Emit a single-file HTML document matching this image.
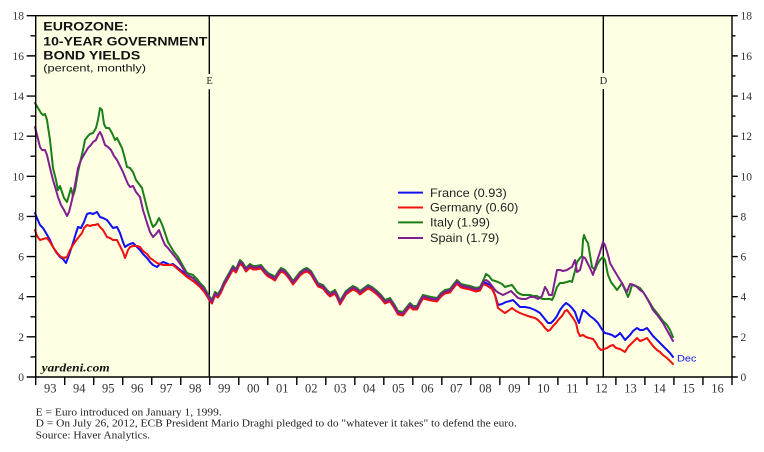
<!DOCTYPE html>
<html><head><meta charset="utf-8"><style>
html,body{margin:0;padding:0;background:#fff;}
svg{display:block;}
</style></head><body>
<svg width="764" height="452" viewBox="0 0 764 452" xmlns="http://www.w3.org/2000/svg">
<rect x="0" y="0" width="764" height="452" fill="#ffffff"/>
<rect x="35.7" y="15.7" width="696.3" height="361.3" fill="#FFFFE4"/>

<!-- title -->
<g font-family="Liberation Sans, Arial, sans-serif" fill="#111">
<text x="43.3" y="30.7" font-size="11.5" font-weight="bold" textLength="85" lengthAdjust="spacingAndGlyphs">EUROZONE:</text>
<text x="43.3" y="45.5" font-size="11.5" font-weight="bold" textLength="164" lengthAdjust="spacingAndGlyphs">10-YEAR GOVERNMENT</text>
<text x="43.3" y="59.3" font-size="11.5" font-weight="bold" textLength="97" lengthAdjust="spacingAndGlyphs">BOND YIELDS</text>
<text x="43.3" y="71.7" font-size="10" textLength="102.7" lengthAdjust="spacingAndGlyphs">(percent, monthly)</text>
</g>

<!-- event lines -->
<g stroke="#000" stroke-width="1.4">
<line x1="209.3" y1="15.7" x2="209.3" y2="74"/>
<line x1="209.3" y1="89.3" x2="209.3" y2="377"/>
<line x1="603.3" y1="15.7" x2="603.3" y2="73"/>
<line x1="603.3" y1="89" x2="603.3" y2="377"/>
</g>
<g font-family="Liberation Serif, Times New Roman, serif" font-size="10.5" fill="#222" text-anchor="middle">
<text x="209.6" y="84.2">E</text>
<text x="603.4" y="84.2">D</text>
</g>

<!-- series -->
<g fill="none" stroke-width="2" stroke-linejoin="round" stroke-linecap="round">
<!-- Italy -->
<g stroke="#1a7f1a">
<polyline points="35,103 38,108 41,113 43,115 45,114 47,120 50,140 53,168 56,180 58,190 60,186 62,192 64,198 67,202 69,195 71,188 73,196 75,190 78,172 80,163 83,150 85,140 88,136 90,134 93,133 96,128 98,120 100,108 102,110 104,124 106,128 109,128 112,133 115,140 117,138 119,142 122,148 124,155 127,167 130,168 133,172 136,180 139,184 142,188 145,200 148,212 151,222 153,227 156,224 159,218 161,222 163,227 166,236 168,242 171,247 174,252 178,257 183,266 187,273 193,275 197,279 200,283 204,287 209,296"/>
<polyline transform="translate(0,-2)" points="209,298 212,302 215,294 218,296 221,291 224,284 228,277 233,268 236,271 240,262 243,265 246,270 250,266 253,268 256,268 261,267 265,272 268,275 272,277 275,279 278,274 281,270 285,272 289,277 293,283 297,278 300,274 304,271 307,270 311,273 315,280 318,285 323,287 327,292 330,295 335,292 338,298 340,303 343,298 346,293 350,290 353,288 357,290 360,293 364,290 368,287 372,289 377,293 381,297 385,302 390,300 394,306 398,313 403,314 406,310 410,305 413,308 417,308 420,302 423,297 427,298 431,299 437,300 441,295 445,292 450,291 453,287 457,282 461,286 465,287 470,288 476,290 480,289 483,283"/>
<polyline points="483,281 486,274 489,276 492,280 495,281 498,282 502,284 505,287 508,286 512,285 515,289 517,292 520,294 523,295 527,295 530,295 533,296 537,296 540,298 543,299 547,299 550,299 552,300 554,296 557,287 560,283 563,283 567,282 570,281 572,282 575,271 577,262 580,258 582,256 583,240 584,235 586,240 588,243 590,255 592,267 595,270 597,265 600,260 603,257 605,260 608,275 611,282 614,286 617,290 620,286 622,283 625,290 628,297 630,292 632,285 636,286 640,288 643,292 647,298 650,303 653,308 657,313 660,317 663,321 667,325 670,330 673,337"/>
</g>
<!-- France -->
<g stroke="#1010f0">
<polyline points="35,213 37,218 40,225 43,228 46,233 50,240 53,247 56,252 60,257 63,259 66,263 69,255 73,243 76,233 78,227 81,228 84,222 87,214 90,213 93,214 95,213 97,212 100,217 103,218 107,220 110,224 113,228 117,227 120,233 123,242 125,247 128,245 130,244 133,243 137,247 140,250 143,254 147,258 150,262 153,265 157,267 160,264 163,262 166,263 170,265 173,264 178,268 183,272 187,275 193,278 200,286 205,292 209,298.5"/>
<polyline transform="translate(0,0.5)" points="209,298 212,302 215,294 218,296 221,291 224,284 228,277 233,268 236,271 240,262 243,265 246,270 250,266 253,268 256,268 261,267 265,272 268,275 272,277 275,279 278,274 281,270 285,272 289,277 293,283 297,278 300,274 304,271 307,270 311,273 315,280 318,285 323,287 327,292 330,295 335,292 338,298 340,303 343,298 346,293 350,290 353,288 357,290 360,293 364,290 368,287 372,289 377,293 381,297 385,302 390,300 394,306 398,313 403,314 406,310 410,305 413,308 417,308 420,302 423,297 427,298 431,299 437,300 441,295 445,292 450,291 453,287 457,282 461,286 465,287 470,288 476,290 480,289 483,283"/>
<polyline points="483,283.5 486,283 490,285 493,290 496,298 498,305 502,304 506,302 510,301 513,300 516,303 520,307 525,307 530,308 535,310 540,313 544,318 548,323 551,323 554,320 557,316 560,310 563,306 566,303 569,305 572,308 575,312 577,318 579,323 581,316 583,310 586,312 590,316 594,319 598,323 601,328 603,331 605,333 609,334 612,335 615,337 618,335 620,333 623,337 625,340 628,337 630,335 633,331 637,328 640,330 643,330 647,328 650,332 653,336 657,340 660,343 663,346 667,350 670,353 673,357"/>
</g>
<!-- Germany -->
<g stroke="#f01010">
<polyline points="35,230 37,236 40,240 43,239 47,238 50,242 53,247 55,250 58,254 61,257 64,258 67,257 70,250 73,245 75,242 78,238 82,233 84,228 87,225 90,226 93,225 95,225 98,224 100,227 103,230 107,237 110,238 113,240 117,240 120,246 123,252 125,258 128,250 130,247 133,246 137,246 140,247 143,251 147,254 150,258 153,260 157,263 160,264 163,265 168,265 173,265 180,271 187,277 193,281 200,287 205,293 209,299.5"/>
<polyline transform="translate(0,1.5)" points="209,298 212,302 215,294 218,296 221,291 224,284 228,277 233,268 236,271 240,262 243,265 246,270 250,266 253,268 256,268 261,267 265,272 268,275 272,277 275,279 278,274 281,270 285,272 289,277 293,283 297,278 300,274 304,271 307,270 311,273 315,280 318,285 323,287 327,292 330,295 335,292 338,298 340,303 343,298 346,293 350,290 353,288 357,290 360,293 364,290 368,287 372,289 377,293 381,297 385,302 390,300 394,306 398,313 403,314 406,310 410,305 413,308 417,308 420,302 423,297 427,298 431,299 437,300 441,295 445,292 450,291 453,287 457,282 461,286 465,287 470,288 476,290 480,289 483,283"/>
<polyline points="483,284.5 486,285 489,287 492,289 495,295 498,308 502,311 505,313 508,311 512,308 516,311 520,313 525,315 531,317 535,318 538,320 542,324 545,328 548,331 550,330 553,326 556,323 559,319 562,316 565,311 567,310 570,314 573,318 576,323 578,332 580,336 583,335 586,337 589,338 593,339 596,343 598,347 601,350 604,349 607,348 610,346 613,345 616,348 620,349 625,352 628,347 632,343 635,340 637,338 640,341 643,340 647,338 650,342 653,346 657,350 660,352 663,355 667,358 670,361 673,364"/>
</g>
<!-- Spain -->
<g stroke="#80208f">
<polyline points="35,127 37,135 40,147 42,150 45,150 47,155 50,168 53,180 56,190 58,197 61,205 64,210 67,216 69,212 72,200 75,185 78,168 81,160 85,153 88,148 91,145 93,142 96,140 98,135 100,132 102,136 105,145 108,147 111,150 114,156 117,160 120,166 123,172 125,177 128,184 130,187 133,186 136,192 140,197 143,210 147,223 150,232 153,237 156,234 159,230 162,238 165,245 168,248 172,253 176,258 181,265 187,275 193,278 200,285 204,289 209,297.5"/>
<polyline transform="translate(0,-0.5)" points="209,298 212,302 215,294 218,296 221,291 224,284 228,277 233,268 236,271 240,262 243,265 246,270 250,266 253,268 256,268 261,267 265,272 268,275 272,277 275,279 278,274 281,270 285,272 289,277 293,283 297,278 300,274 304,271 307,270 311,273 315,280 318,285 323,287 327,292 330,295 335,292 338,298 340,303 343,298 346,293 350,290 353,288 357,290 360,293 364,290 368,287 372,289 377,293 381,297 385,302 390,300 394,306 398,313 403,314 406,310 410,305 413,308 417,308 420,302 423,297 427,298 431,299 437,300 441,295 445,292 450,291 453,287 457,282 461,286 465,287 470,288 476,290 480,289 483,283"/>
<polyline points="483,282.5 486,280 489,282 492,286 496,291 499,293 503,295 507,293 511,291 514,294 518,298 522,299 526,299 530,297 534,297 538,299 542,296 545,287 547,290 549,295 552,295 554,285 557,270 560,270 563,271 567,270 570,268 572,267 575,260 577,272 580,270 582,262 583,257 585,258 587,262 590,268 593,275 595,268 597,261 600,252 603,242 605,245 608,255 610,263 614,270 617,275 620,280 622,283 625,289 627,292 630,284 634,285 637,287 640,290 643,292 645,295 649,302 653,310 658,316 663,323 668,332 673,341"/>
</g>
</g>

<text x="677" y="361.7" font-family="Liberation Sans, Arial, sans-serif" font-size="9.5" fill="#1010f0" textLength="19.5" lengthAdjust="spacingAndGlyphs">Dec</text>

<!-- legend -->
<g stroke-width="2">
<line x1="398" y1="192.6" x2="423" y2="192.6" stroke="#1010f0"/>
<line x1="398" y1="207.5" x2="423" y2="207.5" stroke="#f01010"/>
<line x1="398" y1="222.4" x2="423" y2="222.4" stroke="#1a7f1a"/>
<line x1="398" y1="238" x2="423" y2="238" stroke="#80208f"/>
</g>
<g font-family="Liberation Sans, Arial, sans-serif" font-size="12" fill="#222">
<text x="430" y="196.8" textLength="76.7" lengthAdjust="spacingAndGlyphs">France (0.93)</text>
<text x="430" y="211.7" textLength="88.3" lengthAdjust="spacingAndGlyphs">Germany (0.60)</text>
<text x="430" y="226.6" textLength="60" lengthAdjust="spacingAndGlyphs">Italy (1.99)</text>
<text x="430" y="242.2" textLength="69.3" lengthAdjust="spacingAndGlyphs">Spain (1.79)</text>
</g>

<text x="41.7" y="371.7" font-family="Liberation Serif, Times New Roman, serif" font-size="12" font-weight="bold" font-style="italic" fill="#111" textLength="68" lengthAdjust="spacingAndGlyphs">yardeni.com</text>

<!-- frame & axes -->
<g stroke="#000" stroke-width="1.4" fill="none">
<line x1="26.7" y1="15.7" x2="737.8" y2="15.7"/>
<line x1="26.7" y1="377" x2="737.8" y2="377"/>
<line x1="35.7" y1="15" x2="35.7" y2="385"/>
<line x1="732" y1="15" x2="732" y2="385"/>
<path d="M26.7 55.88H35.7M26.7 96.02H35.7M26.7 136.16H35.7M26.7 176.3H35.7M26.7 216.44H35.7M26.7 256.58H35.7M26.7 296.72H35.7M26.7 336.86H35.7
M30.5 35.81H35.7M30.5 75.95H35.7M30.5 116.09H35.7M30.5 156.23H35.7M30.5 196.37H35.7M30.5 236.51H35.7M30.5 276.65H35.7M30.5 316.79H35.7M30.5 356.93H35.7
M732 55.88H737.8M732 96.02H737.8M732 136.16H737.8M732 176.3H737.8M732 216.44H737.8M732 256.58H737.8M732 296.72H737.8M732 336.86H737.8
M732 35.81H735.5M732 75.95H735.5M732 116.09H735.5M732 156.23H735.5M732 196.37H735.5M732 236.51H735.5M732 276.65H735.5M732 316.79H735.5M732 356.93H735.5"/>
<path d="M64.71 377V385M93.72 377V385M122.73 377V385M151.74 377V385M180.75 377V385M209.76 377V385M238.77 377V385M267.78 377V385M296.79 377V385M325.8 377V385M354.81 377V385M383.82 377V385M412.83 377V385M441.84 377V385M470.85 377V385M499.86 377V385M528.87 377V385M557.88 377V385M586.89 377V385M615.9 377V385M644.91 377V385M673.92 377V385M702.93 377V385"/>
</g>

<!-- y labels -->
<g font-family="Liberation Serif, Times New Roman, serif" font-size="11.5" fill="#333">
<g text-anchor="end">
<text x="24" y="19.7">18</text><text x="24" y="59.9">16</text><text x="24" y="100">14</text><text x="24" y="140.2">12</text><text x="24" y="180.3">10</text><text x="24" y="220.4">8</text><text x="24" y="260.6">6</text><text x="24" y="300.7">4</text><text x="24" y="340.9">2</text><text x="24" y="381">0</text>
</g>
<g text-anchor="start">
<text x="740.5" y="19.7">18</text><text x="740.5" y="59.9">16</text><text x="740.5" y="100">14</text><text x="740.5" y="140.2">12</text><text x="740.5" y="180.3">10</text><text x="740.5" y="220.4">8</text><text x="740.5" y="260.6">6</text><text x="740.5" y="300.7">4</text><text x="740.5" y="340.9">2</text><text x="740.5" y="381">0</text>
</g>
</g>

<!-- x labels -->
<g font-family="Liberation Serif, Times New Roman, serif" font-size="12.5" fill="#333" text-anchor="middle">
<text x="50.2" y="392.5">93</text><text x="79.2" y="392.5">94</text><text x="108.2" y="392.5">95</text><text x="137.2" y="392.5">96</text><text x="166.3" y="392.5">97</text><text x="195.3" y="392.5">98</text><text x="224.3" y="392.5">99</text><text x="253.3" y="392.5">00</text><text x="282.3" y="392.5">01</text><text x="311.3" y="392.5">02</text><text x="340.3" y="392.5">03</text><text x="369.3" y="392.5">04</text><text x="398.4" y="392.5">05</text><text x="427.4" y="392.5">06</text><text x="456.4" y="392.5">07</text><text x="485.4" y="392.5">08</text><text x="514.4" y="392.5">09</text><text x="543.4" y="392.5">10</text><text x="572.4" y="392.5">11</text><text x="601.4" y="392.5">12</text><text x="630.5" y="392.5">13</text><text x="659.5" y="392.5">14</text><text x="688.5" y="392.5">15</text><text x="717.5" y="392.5">16</text>
</g>

<!-- footnotes -->
<g font-family="Liberation Serif, Times New Roman, serif" font-size="10.5" fill="#222">
<text x="35.7" y="415.3" textLength="186" lengthAdjust="spacingAndGlyphs">E = Euro introduced on January 1, 1999.</text>
<text x="35.7" y="426.7" textLength="481" lengthAdjust="spacingAndGlyphs">D = On July 26, 2012, ECB President Mario Draghi pledged to do "whatever it takes" to defend the euro.</text>
<text x="35.7" y="438.3" textLength="114.3" lengthAdjust="spacingAndGlyphs">Source: Haver Analytics.</text>
</g>
</svg>
</body></html>
